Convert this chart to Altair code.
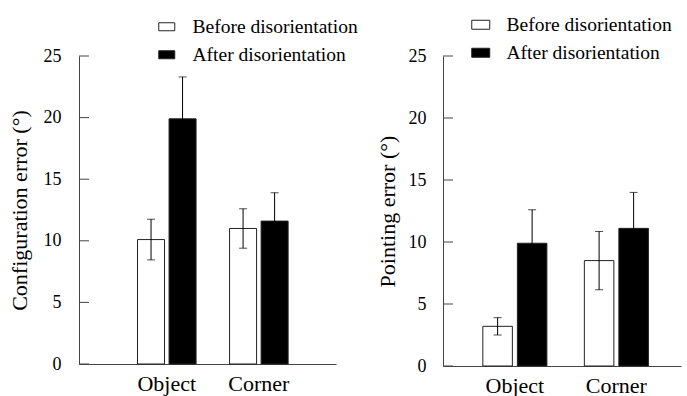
import altair as alt
import pandas as pd

categories = ["Object", "Corner"]
conditions = ["Before disorientation", "After disorientation"]

# order: Object-Before, Object-After, Corner-Before, Corner-After
config_mean = [10.1, 19.9, 11.0, 11.6]
config_err = [1.65, 3.4, 1.6, 2.3]
point_mean = [3.2, 9.9, 8.5, 11.1]
point_err = [0.7, 2.7, 2.35, 2.9]
y_ticks = [0, 5, 10, 15, 20, 25]

FONT = "Liberation Serif"
AXIS_COLOR = "#444"


def make_df(means, errs):
    rows = []
    i = 0
    for c in categories:
        for k in conditions:
            rows.append({"category": c, "condition": k, "mean": means[i],
                         "lo": means[i] - errs[i], "hi": means[i] + errs[i]})
            i += 1
    return pd.DataFrame(rows)


def panel(means, errs, title, width, height, x_pi, x_po, x_align,
          off_pi, leg_x, leg_y, sym_size, title_pad, label_pad):
    df = make_df(means, errs)
    x_enc = alt.X("category:N", sort=categories,
                  scale=alt.Scale(paddingInner=x_pi, paddingOuter=x_po, align=x_align),
                  axis=alt.Axis(title=None, labelAngle=0, labelFontSize=22, ticks=False,
                                labelPadding=9, domainColor=AXIS_COLOR, labelColor="black"))
    xoff = alt.XOffset("condition:N", sort=conditions,
                       scale=alt.Scale(paddingInner=off_pi, paddingOuter=0))
    base = alt.Chart(df).encode(x=x_enc, xOffset=xoff)
    bars = base.mark_bar(stroke="#222", strokeWidth=1).encode(
        y=alt.Y("mean:Q", scale=alt.Scale(domain=[0, 25], nice=False),
                axis=alt.Axis(values=y_ticks, ticks=False, grid=False, title=title,
                              titleFontSize=22, titleFontWeight="normal",
                              titlePadding=title_pad, labelFontSize=18,
                              labelPadding=label_pad, domainColor=AXIS_COLOR,
                              labelColor="black", titleColor="black")),
        fill=alt.Fill("condition:N", sort=conditions,
                      scale=alt.Scale(domain=conditions, range=["white", "black"]),
                      legend=alt.Legend(title=None, orient="none", legendX=leg_x, legendY=leg_y,
                                        symbolType="M-1,-0.5H1V0.5H-1Z", symbolSize=sym_size,
                                        symbolStrokeColor="#222", symbolStrokeWidth=1,
                                        labelFont=FONT, labelFontSize=19.5, labelColor="black",
                                        labelLimit=0, labelOffset=16, rowPadding=7, padding=0)),
    )
    err = base.mark_rule(color="black", strokeWidth=1).encode(y="lo:Q", y2="hi:Q")
    cap_hi = base.mark_tick(orient="horizontal", size=8, thickness=1, color="black").encode(y="hi:Q")
    cap_lo = base.mark_tick(orient="horizontal", size=8, thickness=1, color="black").encode(y="lo:Q")
    tdf = pd.DataFrame({"v": y_ticks})
    inner_ticks = alt.Chart(tdf).mark_rule(color=AXIS_COLOR, strokeWidth=1).encode(
        y=alt.Y("v:Q"), x=alt.value(0), x2=alt.value(10))
    return alt.layer(bars, err, cap_hi, cap_lo, inner_ticks).properties(width=width, height=height)


left = panel(config_mean, config_err, "Configuration error (°)", 257, 308,
             0.364, 0.578, 0.55, 0.143, 78, -39, 256, 12, 18)
right = panel(point_mean, point_err, "Pointing error (°)", 238, 310,
              0.369, 0.357, 0.55, 0.145, 28, -41, 324, 9, 17)

chart = alt.hconcat(left, right, spacing=107, bounds="flush").resolve_scale(
    x="independent", y="independent", fill="independent", xOffset="independent"
).resolve_legend(fill="independent").properties(
    padding={"left": 8, "top": 15, "right": 2, "bottom": 2}
).configure_view(stroke=None).configure_axis(
    labelFont=FONT, titleFont=FONT
)

chart.save("out.html", embed_options={"renderer": "svg", "actions": False})
